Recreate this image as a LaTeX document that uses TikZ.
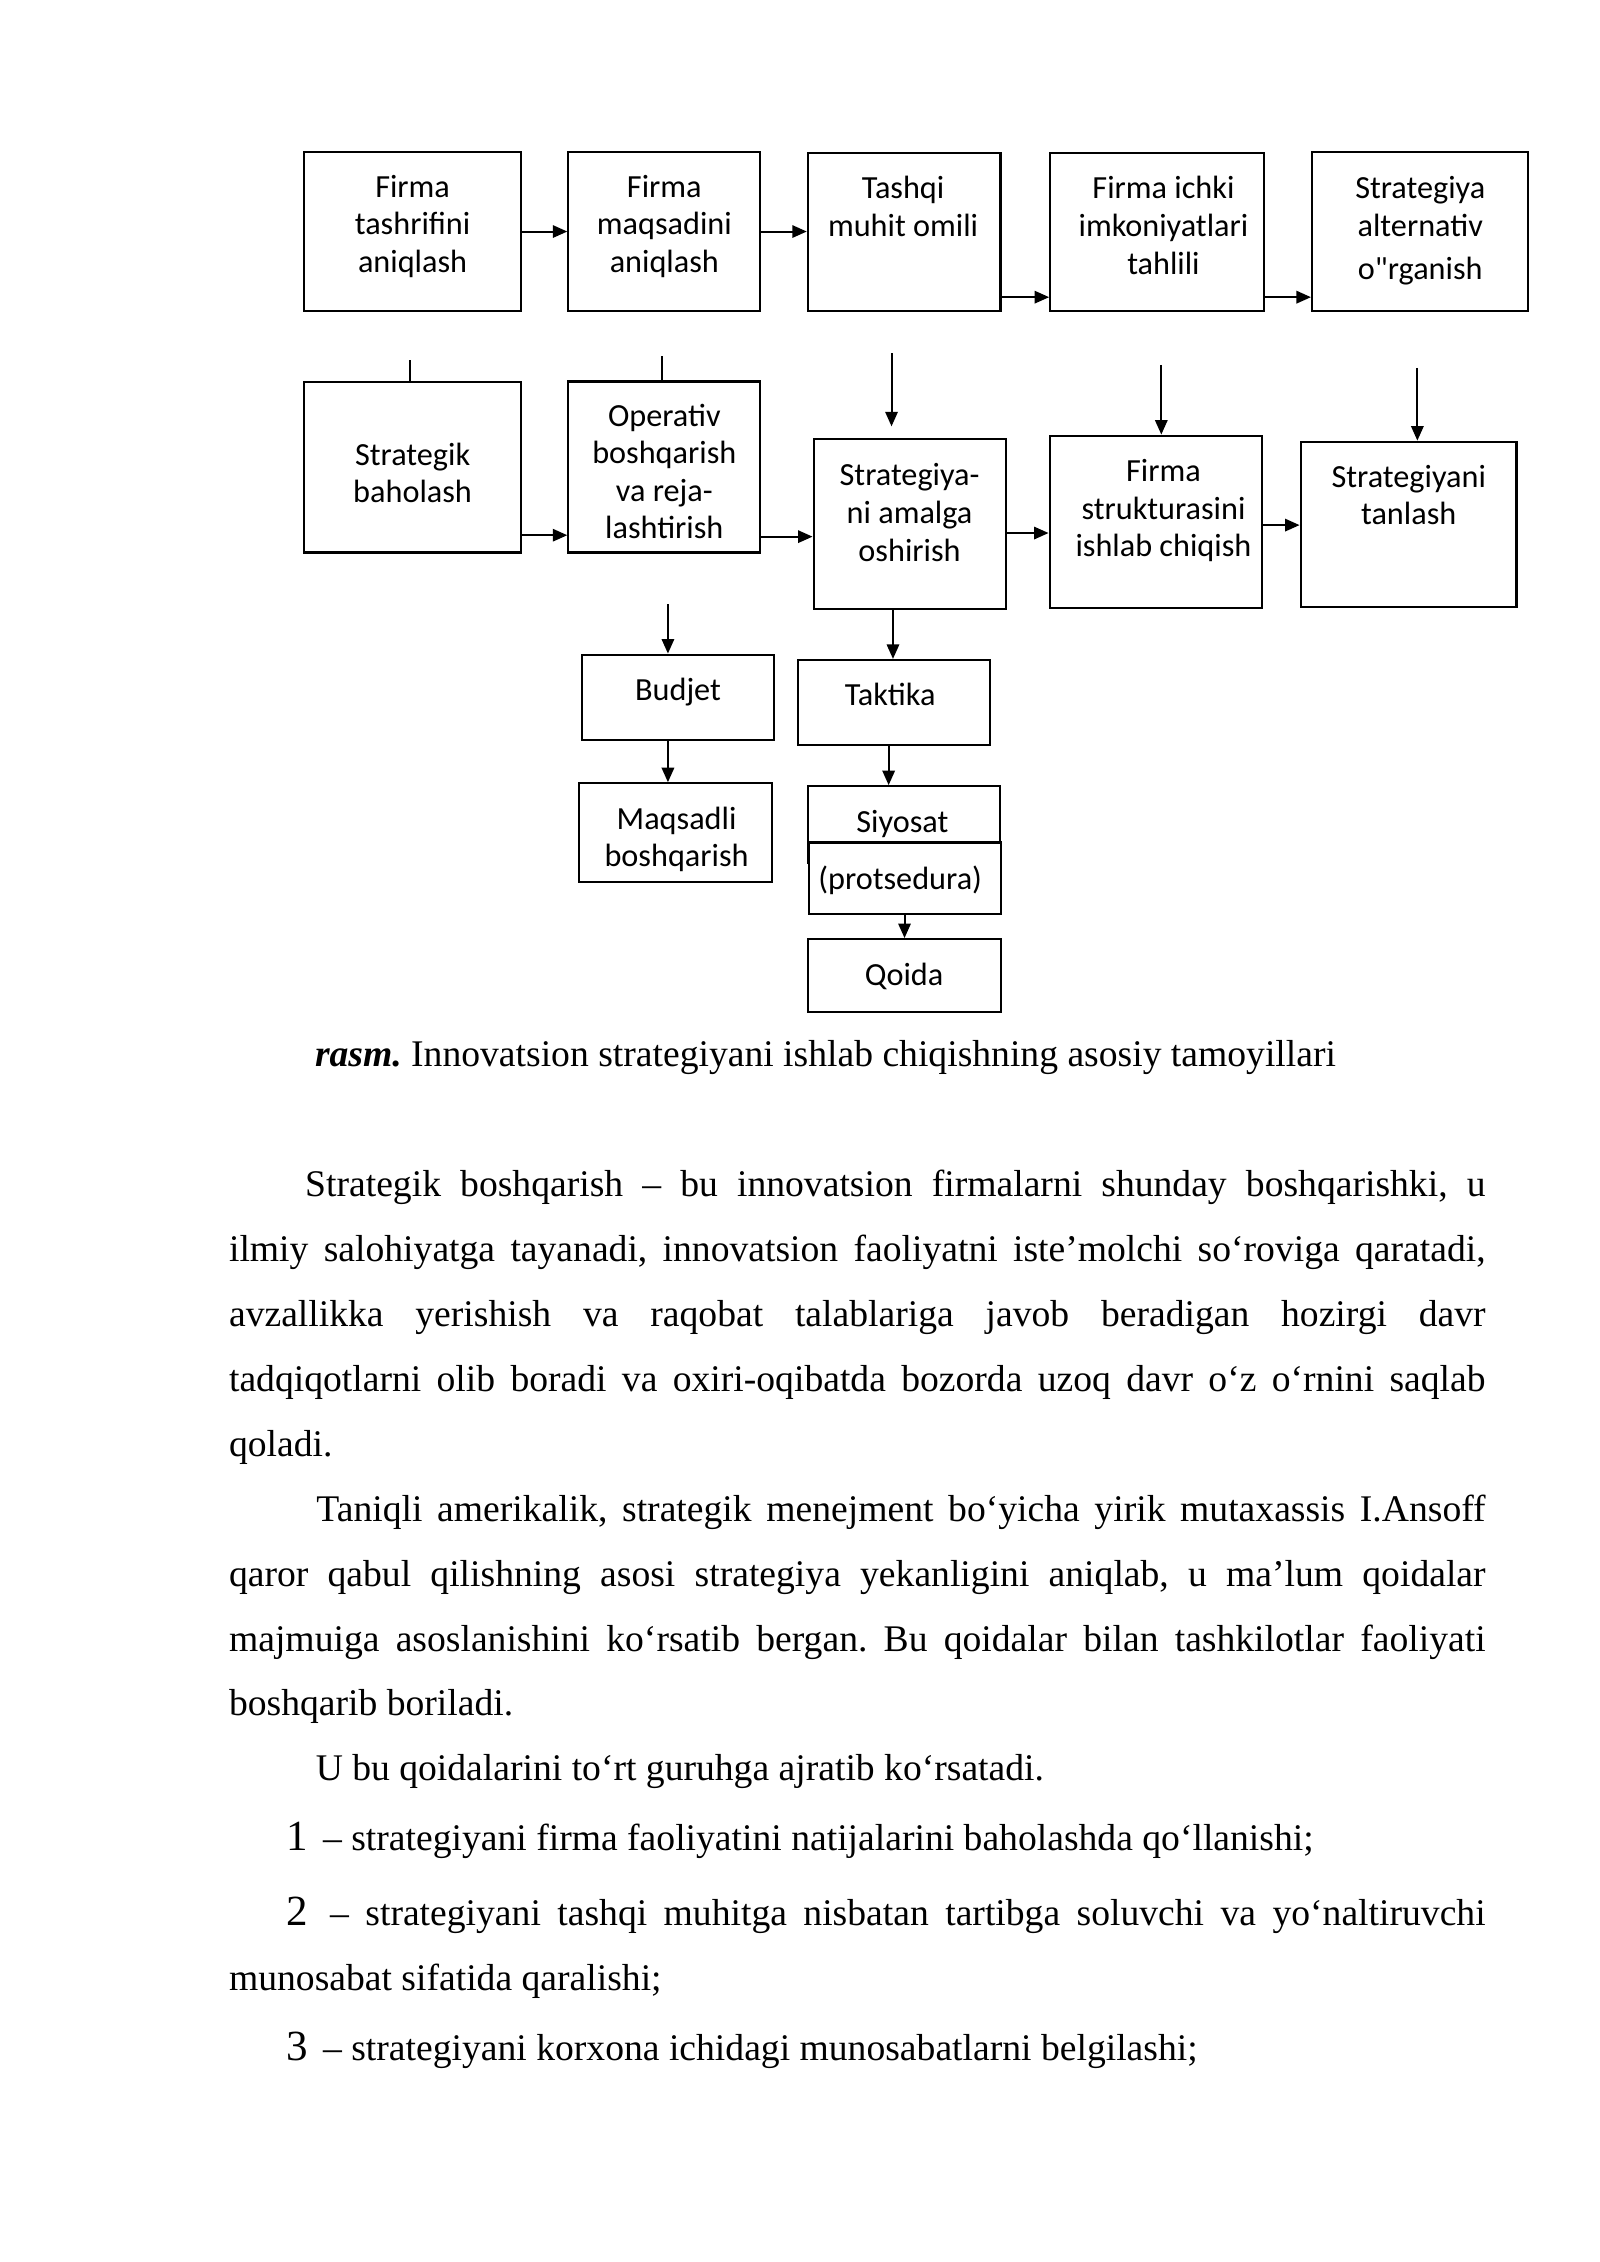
\documentclass[tikz,border=0pt]{standalone}
\usepackage{fontspec}
\setmainfont{Liberation Serif}
\newfontfamily\calib{Carlito}
\usetikzlibrary{arrows.meta,calc}
\newlength\pxu
\setlength\pxu{0.5368pt}
\frenchspacing
\tikzset{
 boxs/.style={draw=black, line width=0.8pt, fill=white, inner sep=0pt},
 lbl/.style={font=\calib\fontsize{12}{14}\selectfont, align=center, inner sep=0pt, anchor=north},
 arr/.style={line width=0.75pt, -{Triangle[length=5.4pt,width=4.6pt]}},
 ln/.style={line width=0.75pt},
 tx/.style={font=\fontsize{14}{16}\selectfont\frenchspacing, inner sep=0pt, anchor=base west},
}
\newcommand\mybox[5]{\node[boxs, minimum width={(#4-#2)*0.5368pt}, minimum height={(#5-#3)*0.5368pt}] (#1) at ({(#2+#4)/2},{(#3+#5)/2}) {};}
\newcommand\numi[1]{{\fontsize{16}{18}\selectfont #1}\hspace{2pt}}
\begin{document}
\begin{tikzpicture}[x=0.5368pt, y=-0.5368pt]
\fill[white] (0,0) rectangle (1109,1568);
\useasboundingbox (0,0) rectangle (1109,1568);
% boxes
\mybox{b1}{211}{105.5}{361}{215.5}
\mybox{b2}{394}{105.5}{527}{215.5}
\mybox{b3}{560}{106}{693.5}{215.5}
\mybox{b4}{728}{106}{876}{215.5}
\mybox{b5}{909.5}{105.5}{1059}{215.5}
\mybox{m1}{211}{265}{361}{383}
\mybox{m2}{394}{264.5}{527}{383}
\mybox{m3}{564}{304.3}{697.4}{422.4}
\mybox{m4}{727.6}{302}{874.8}{421.7}
\mybox{m5}{901.6}{306.2}{1051.2}{420.5}
\mybox{bud}{403.2}{453.8}{536.5}{513}
\mybox{maq}{401.4}{543}{535}{611.6}
\mybox{tak}{553.2}{457.5}{686.3}{516.2}
\mybox{siy}{560.3}{545}{693.2}{598}
\mybox{pro}{560.8}{584}{693.7}{633.8}
\mybox{qoi}{560.3}{651}{693.7}{701.3}
% box texts
\node[lbl] (b1t) at (286,121) {Firma\\tashrifini\\aniqlash};
\node[lbl] (b2t) at (460.5,121) {Firma\\maqsadini\\aniqlash};
\node[lbl] (b3t) at (626,122) {Tashqi\\muhit omili};
\node[lbl] (b4t) at (806.5,122) {Firma ichki\\imkoniyatlari\\tahlili};
\node[lbl] (b5t) at (984.5,122) {Strategiya\\alternativ\\[2pt]o"rganish};
\node[lbl] (m1t) at (286,306.5) {Strategik\\baholash};
\node[lbl] (m2t) at (460.5,279.5) {Operativ\\boshqarish\\va reja-\\lashtirish};
\node[lbl] (m3t) at (630.5,321) {Strategiya-\\ni amalga\\oshirish};
\node[lbl] (m4t) at (806.5,318) {Firma\\strukturasini\\ishlab chiqish};
\node[lbl] (m5t) at (976.5,322) {Strategiyani\\tanlash};
\node[lbl] (budt) at (470,470) {Budjet};
\node[lbl] (maqt) at (469,559) {Maqsadli\\boshqarish};
\node[lbl] (takt) at (617,473) {Taktika};
\node[lbl] (siyt) at (625.5,561) {Siyosat};
\node[lbl] (prot) at (624,600) {(protsedura)};
\node[lbl] (qoit) at (626.7,667.5) {Qoida};
% connectors
\draw[arr] (b1.east) -- (b2.west);
\draw[arr] (b2.east) -- (b3.west |- b2.east);
\draw[arr] (b3.east |- 0,206) -- (b4.west |- 0,206);
\draw[arr] (b4.east |- 0,206) -- (b5.west |- 0,206);
\draw[ln] (m1.north -| 284,0) -- ++(0,-15);
\draw[ln] (m2.north -| 459,0) -- ++(0,-17);
\draw[arr] (m1.east |- 0,371) -- (m2.west |- 0,371);
\draw[arr] (m2.east |- 0,372) -- (m3.west |- 0,372);
\draw[arr] (m3.east |- 0,369.5) -- (m4.west |- 0,369.5);
\draw[arr] (m4.east |- 0,364) -- (m5.west |- 0,364);
\coordinate (f3) at (618,245);
\coordinate (f4) at (805,253);
\coordinate (f5) at (982.5,255);
\draw[arr] (f3) -- ($(f3 |- m3.north)+(0,-8)$);
\draw[arr] (f4) -- (f4 |- m4.north);
\draw[arr] (f5) -- (f5 |- m5.north);
\draw[arr] (m3.south -| 619,0) -- (tak.north -| 619,0);
\coordinate (fb) at (463,419);
\draw[arr] (fb) -- (fb |- bud.north);
\draw[arr] (bud.south -| fb) -- (maq.north -| fb);
\draw[arr] (tak.south -| 616,0) -- (siy.north -| 616,0);
\draw[arr] (pro.south -| 627,0) -- (qoi.north -| 627,0);
% caption
\node[tx] (cap) at (218,739.5) {\textbf{\textit{rasm.}} Innovatsion strategiyani ishlab chiqishning asosiy tamoyillari};
% body text
\node[tx] (p1) at (211.2,829.5) {\makebox[818.2\pxu][s]{Strategik boshqarish – bu innovatsion firmalarni shunday boshqarishki, u}};
\node[tx] (p2) at (158.4,874.5) {\makebox[871\pxu][s]{ilmiy salohiyatga tayanadi, innovatsion faoliyatni iste’molchi so‘roviga qaratadi,}};
\node[tx] (p3) at (158.4,919.5) {\makebox[871\pxu][s]{avzallikka yerishish va raqobat talablariga javob beradigan hozirgi davr}};
\node[tx] (p4) at (158.4,964.5) {\makebox[871\pxu][s]{tadqiqotlarni olib boradi va oxiri-oqibatda bozorda uzoq davr o‘z o‘rnini saqlab}};
\node[tx] (p5) at (158.4,1009.5) {qoladi.};
\node[tx] (q1) at (219,1054.5) {\makebox[810.4\pxu][s]{Taniqli amerikalik, strategik menejment bo‘yicha yirik mutaxassis I.Ansoff}};
\node[tx] (q2) at (158.4,1099.5) {\makebox[871\pxu][s]{qaror qabul qilishning asosi strategiya yekanligini aniqlab, u ma’lum qoidalar}};
\node[tx] (q3) at (158.4,1144.5) {\makebox[871\pxu][s]{majmuiga asoslanishini ko‘rsatib bergan. Bu qoidalar bilan tashkilotlar faoliyati}};
\node[tx] (q4) at (158.4,1189.5) {boshqarib boriladi.};
\node[tx] (r1) at (218.5,1234.5) {U bu qoidalarini to‘rt guruhga ajratib ko‘rsatadi.};
\node[tx] (i1) at (198.5,1283) {\numi{1} – strategiyani firma faoliyatini natijalarini baholashda qo‘llanishi;};
\node[tx] (i2) at (198.5,1334.5) {\makebox[830.9\pxu][s]{\numi{2} – strategiyani tashqi muhitga nisbatan tartibga soluvchi va yo‘naltiruvchi}};
\node[tx] (i3) at (158.4,1379.5) {munosabat sifatida qaralishi;};
\node[tx] (i4) at (198.5,1428.5) {\numi{3} – strategiyani korxona ichidagi munosabatlarni belgilashi;};
\end{tikzpicture}
\end{document}
